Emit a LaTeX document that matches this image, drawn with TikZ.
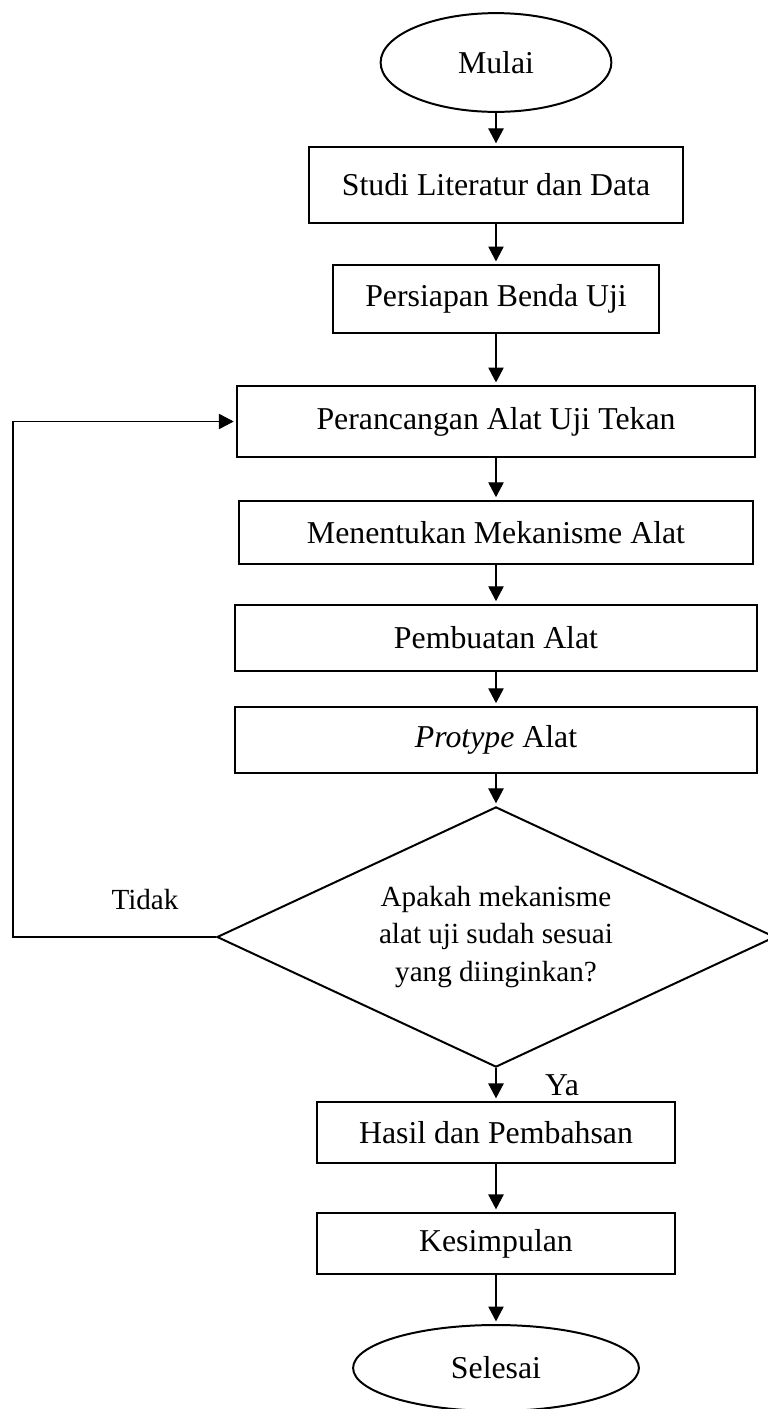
\documentclass[tikz,border=0pt]{standalone}
\usepackage{fontspec}
\setmainfont{Liberation Serif}
\usepackage{tikz}
\usetikzlibrary{positioning, arrows.meta, shapes.geometric}

\begin{document}
\begin{tikzpicture}[x=1.326cm, y=1.326cm, font=\fontsize{12}{14}\selectfont,
    box/.style={draw, line width=0.75pt, rectangle, align=center, inner sep=0pt},
    terminal/.style={draw, line width=0.75pt, ellipse, inner sep=0pt},
    decision/.style={draw, line width=0.75pt, diamond, shape aspect=2.15, align=center,
                     inner sep=0pt, font=\fontsize{11}{14}\selectfont},
    flow/.style={-{Triangle[length=5.6pt, width=5.8pt]}, line width=0.4pt, shorten >=1pt}]
        \useasboundingbox (0,0) rectangle (7.68,-14.09);
        \clip (0,0) rectangle (7.68,-14.09);
        \node[terminal, minimum width=3.06cm, minimum height=1.31cm] (mulai) at (4.96,-0.625)
              {Mulai};
        \node[box, minimum width=4.97cm, minimum height=1.01cm] (studi) at (4.96,-1.85)
              {Studi Literatur dan Data};
        \node[box, minimum width=4.31cm, minimum height=0.90cm] (persiapan) at (4.96,-2.99)
              {Persiapan Benda Uji};
        \node[box, minimum width=6.86cm, minimum height=0.94cm] (perancangan) at (4.96,-4.215)
              {Perancangan Alat Uji Tekan};
        \node[box, minimum width=6.82cm, minimum height=0.84cm] (mekanisme) at (4.96,-5.325)
              {Menentukan Mekanisme Alat};
        \node[box, minimum width=6.92cm, minimum height=0.88cm] (pembuatan) at (4.96,-6.38)
              {Pembuatan Alat};
        \node[box, minimum width=6.91cm, minimum height=0.88cm] (prototipe) at (4.96,-7.40)
              {\textit{Protype} Alat};
        \node[decision, minimum width=7.40cm, minimum height=3.45cm] (cek) at (4.96,-9.37)
              {Apakah mekanisme\\alat uji sudah sesuai\\yang diinginkan?};
        \node[box, minimum width=4.75cm, minimum height=0.81cm] (hasil) at (4.96,-11.325)
              {Hasil dan Pembahsan};
        \node[box, minimum width=4.75cm, minimum height=0.81cm] (kesimpulan) at (4.96,-12.435)
              {Kesimpulan};
        \node[terminal, minimum width=3.79cm, minimum height=1.14cm] (selesai) at (4.96,-13.68)
              {Selesai};
        \node[font=\fontsize{11}{14}\selectfont] (tidak) at (1.45,-9.00) {Tidak};
        \node (ya) at (5.62,-10.85) {Ya};
        \coordinate (balik) at (0.13,-9.37);
        \draw[flow] (mulai) -- (studi);
        \draw[flow] (studi) -- (persiapan);
        \draw[flow] (persiapan) -- (perancangan);
        \draw[flow] (perancangan) -- (mekanisme);
        \draw[flow] (mekanisme) -- (pembuatan);
        \draw[flow] (pembuatan) -- (prototipe);
        \draw[flow] (prototipe) -- (cek);
        \draw[flow] (cek) -- (hasil);
        \draw[flow] (hasil) -- (kesimpulan);
        \draw[flow] (kesimpulan) -- (selesai);
        \draw[flow] (cek.west) -- (balik) |- (perancangan.west);
      \end{tikzpicture}
\end{document}
